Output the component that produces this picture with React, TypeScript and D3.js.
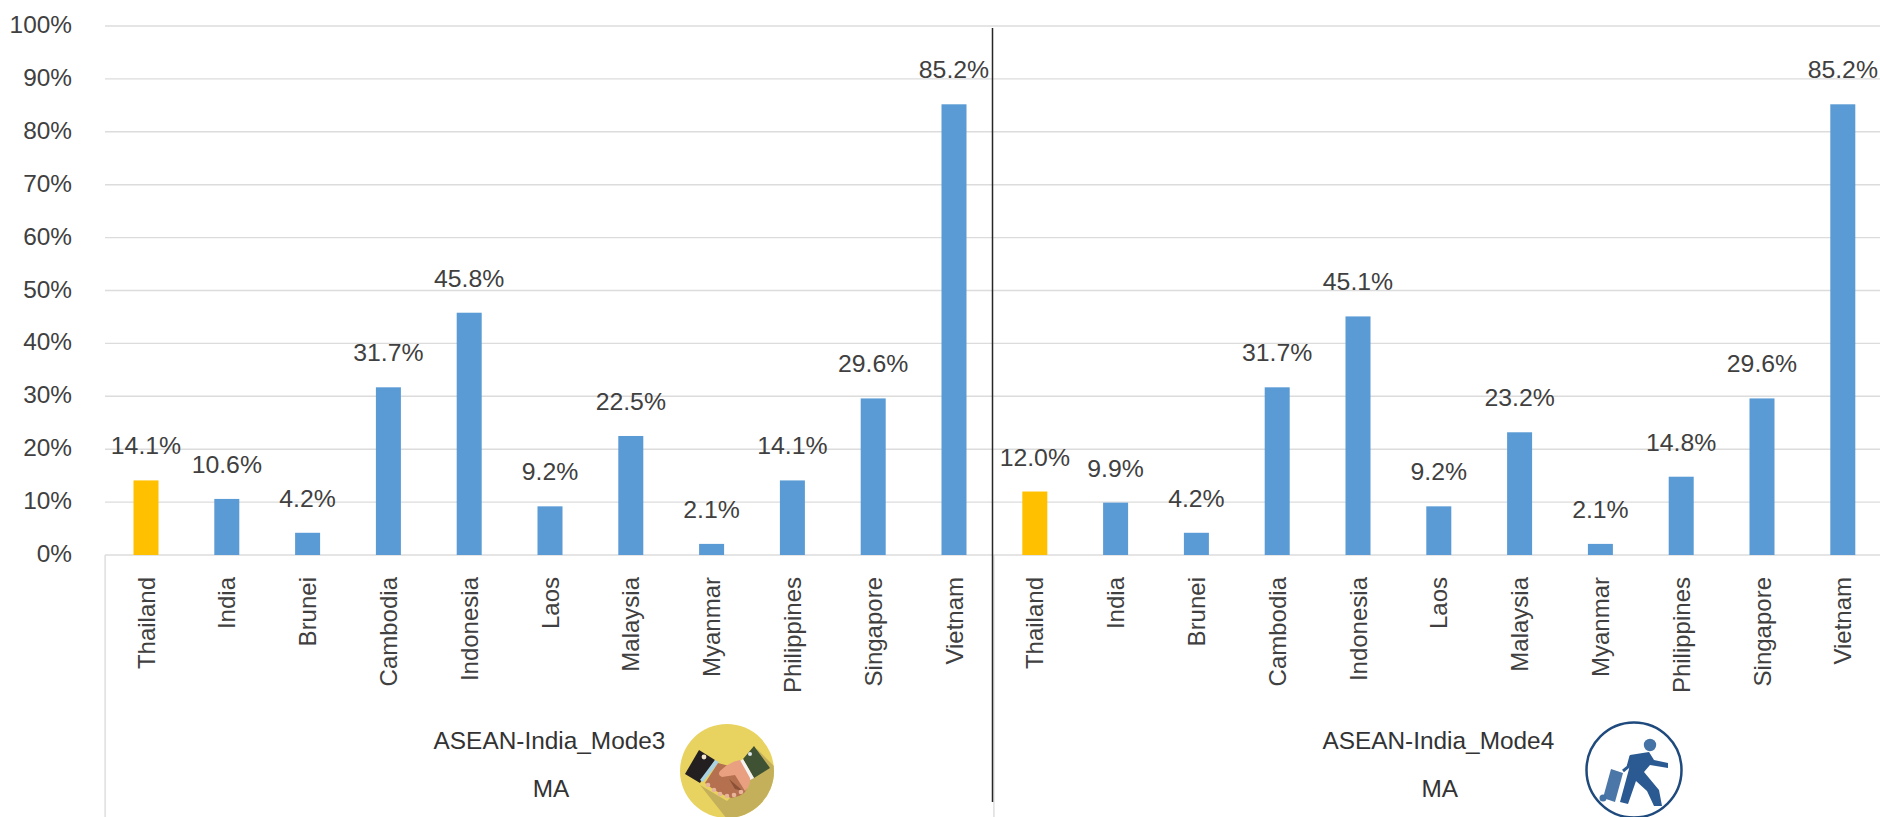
import React from "react";
import * as d3 from "d3";

const WIDTH = 1880;
const HEIGHT = 817;

const countries = ["Thailand", "India", "Brunei", "Cambodia", "Indonesia", "Laos", "Malaysia", "Myanmar", "Philippines", "Singapore", "Vietnam"];
const mode3Values = [14.1, 10.6, 4.2, 31.7, 45.8, 9.2, 22.5, 2.1, 14.1, 29.6, 85.2];
const mode4Values = [12.0, 9.9, 4.2, 31.7, 45.1, 9.2, 23.2, 2.1, 14.8, 29.6, 85.2];
const yTicks = [0, 10, 20, 30, 40, 50, 60, 70, 80, 90, 100];
const groupNames = ["ASEAN-India_Mode3", "ASEAN-India_Mode4"];
const measure = "MA";

const FONT = "'Liberation Sans', Arial, sans-serif";
const GRID = "#dcdcdc";
const BLUE = "#5B9BD5";
const GOLD = "#FFC000";
const TEXT = "#404040";

const rows = [mode3Values, mode4Values].flatMap((vals, g) =>
  vals.map((v, i) => ({ key: `${g}-${i}`, group: g, country: countries[i], value: v, highlight: i === 0 }))
);

const STEP = 80.8;
const LEFT = 105.6;
const x = d3
  .scaleBand<string>()
  .domain(rows.map((r) => r.key))
  .range([LEFT, LEFT + STEP * rows.length])
  .paddingInner(1 - 25 / STEP)
  .paddingOuter((1 - 25 / STEP) / 2);
const y = d3.scaleLinear().domain([0, 100]).range([555, 26]);

const groupStart = (g: number) => LEFT + g * countries.length * STEP;
const groupMid = (g: number) => groupStart(g) + (countries.length * STEP) / 2;

function HandshakeIcon() {
  return (
    <g transform="translate(727,771)">
      <clipPath id="hs-clip">
        <circle r={47} />
      </clipPath>
      <circle r={47} fill="#E8D260" />
      <polygon clipPath="url(#hs-clip)" points="-27,14 0,48 50,48 50,-2 30,-22 20,10 0,30" fill="#C4B05A" />
      <polygon points="-28,-21 -12,-11 -27,12 -42,3" fill="#231F20" />
      <polygon points="-12,-11 -8,-9 -24,11 -27,9" fill="#A9D3E3" />
      <circle cx={-23} cy={-14} r={2.4} fill="#F0E4D0" />
      <polygon points="27,-25 43,-3 27,7 16,-12" fill="#3F5233" />
      <polygon points="16,-12 27,7 23,9 13,-10" fill="#F4F4F4" />
      <circle cx={23} cy={-17} r={2} fill="#DDE6EA" />
      <path d="M-9,-8 L6,-4 L20,15 Q20,22 12,25 L4,27 Q-10,22 -22,12 Z" fill="#B5704F" />
      <path d="M13,-11 L23,7 Q24,14 18,20 L8,4 L-5,6 Q-10,4 -7,0 Q2,-9 13,-11 Z" fill="#E8A081" />
      <path d="M2,8 L16,20 L8,18 Z" fill="#8A5138" />
      {[[-19, 14], [-13, 19], [-7, 23], [0, 25], [7, 24], [14, 21]].map(([cx, cy]) => (
        <circle key={cx} cx={cx} cy={cy} r={2.3} fill="#E8B59B" />
      ))}
    </g>
  );
}

function WalkerIcon() {
  return (
    <g transform="translate(1634,770)">
      <circle r={47.5} fill="#fff" stroke="#1F4A7D" strokeWidth={2.5} />
      <circle cx={16} cy={-25} r={6.2} fill="#4673A6" />
      <polygon points="-23,-1 -11,3 -19,32 -31,28" fill="#4A76A8" />
      <circle cx={-31} cy={28} r={3.5} fill="#4673A6" />
      <polygon
        points="-4,-15 15,-18 20,-10 34,-7 34,-2 16,-5 10,2 25,20 28,36 20,36 13,21 2,11 -6,34 -14,32 -5,-1"
        fill="#2B5A92"
      />
      <path d="M-3,-14 L-6,-3 L-11,1" stroke="#2B5A92" strokeWidth={3} fill="none" />
    </g>
  );
}

export default function App() {
  return (
    <svg
      width={WIDTH}
      height={HEIGHT}
      viewBox={`0 0 ${WIDTH} ${HEIGHT}`}
      style={{ position: "absolute", left: 0, top: 0, display: "block", background: "#fff" }}
      fontFamily={FONT}
    >
      {yTicks.map((t) => (
        <g key={t}>
          <line x1={105} x2={WIDTH} y1={y(t)} y2={y(t)} stroke={GRID} strokeWidth={1.4} />
          <text x={72} y={y(t) + 7} textAnchor="end" fontSize={24.4} fill={TEXT}>
            {t}%
          </text>
        </g>
      ))}

      {groupNames.map((_, g) => (
        <line key={g} x1={groupStart(g) - 0.5} x2={groupStart(g) - 0.5} y1={555} y2={HEIGHT} stroke={GRID} strokeWidth={1.4} />
      ))}

      {rows.map((r) => {
        const bx = x(r.key) as number;
        const cx = bx + x.bandwidth() / 2;
        return (
          <g key={r.key}>
            <rect x={bx} y={y(r.value)} width={x.bandwidth()} height={y(0) - y(r.value)} fill={r.highlight ? GOLD : BLUE} />
            <text x={cx} y={y(r.value) - 26} textAnchor="middle" fontSize={24.8} fill={TEXT}>
              {r.value.toFixed(1)}%
            </text>
            <text
              transform={`translate(${cx + 8.5},577) rotate(-90)`}
              textAnchor="end"
              fontSize={24}
              fill={TEXT}
            >
              {r.country}
            </text>
          </g>
        );
      })}

      <line x1={992.5} x2={992.5} y1={28} y2={802} stroke="#262626" strokeWidth={1.5} />

      {groupNames.map((name, g) => (
        <g key={name} fontSize={24.4} fill="#333" textAnchor="middle">
          <text x={groupMid(g) - 0.5} y={749}>
            {name}
          </text>
          <text x={groupMid(g) + 1} y={797}>
            {measure}
          </text>
        </g>
      ))}

      <HandshakeIcon />
      <WalkerIcon />
    </svg>
  );
}
